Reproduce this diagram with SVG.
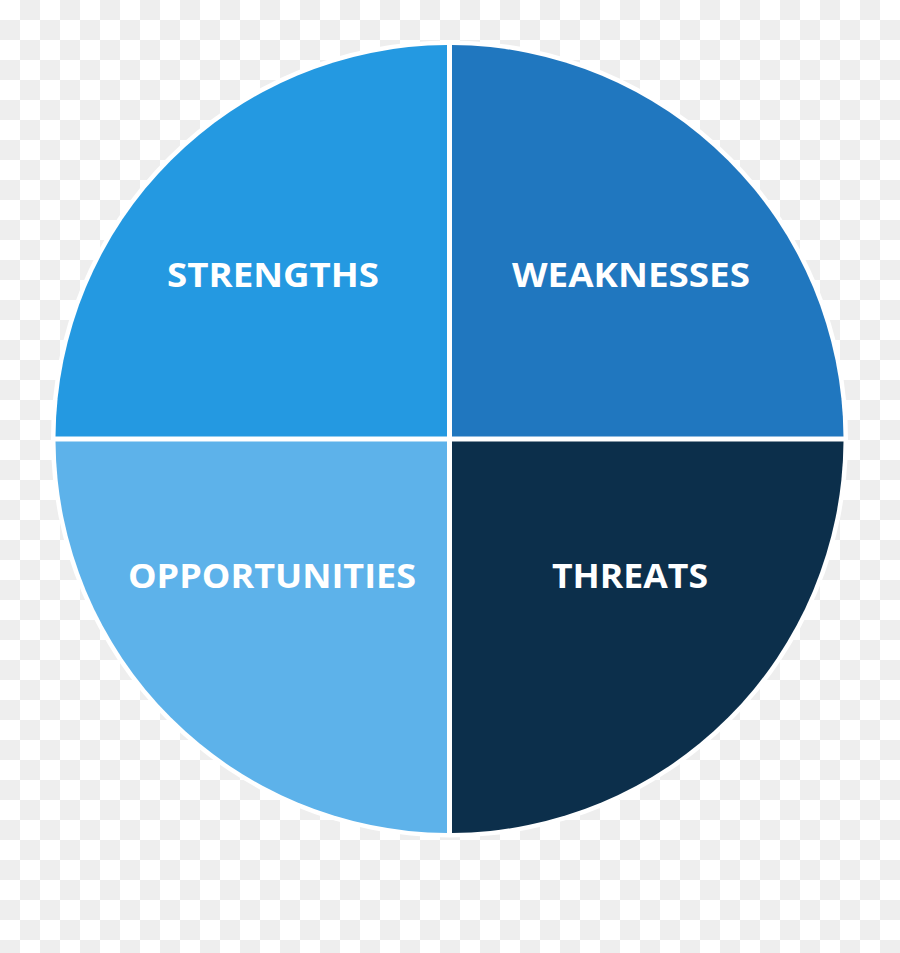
<svg xmlns="http://www.w3.org/2000/svg" width="900" height="953" viewBox="0 0 900 953">
  <style>
    .lbl { font-family: "Open Sans", "Noto Sans", "DejaVu Sans", sans-serif; font-weight: 700; font-size: 34px; fill: #ffffff; text-anchor: middle; }
  </style>
  <defs>
    <pattern id="checker" x="0" y="0" width="40" height="40" patternUnits="userSpaceOnUse">
      <rect x="0" y="0" width="40" height="40" fill="#ffffff"/>
      <rect x="20" y="0" width="20" height="20" fill="#eeeeee"/>
      <rect x="0" y="20" width="20" height="20" fill="#eeeeee"/>
    </pattern>
  </defs>
  <rect x="0" y="0" width="900" height="953" fill="url(#checker)"/>
  <circle cx="449.5" cy="439" r="398.5" fill="#ffffff"/>
  <g id="strengths">
    <path d="M447,436.5 L55.51,436.5 A394,394 0 0 1 447,45.01 Z" fill="#2499e1"/>
    <text class="lbl" x="273" y="287" textLength="212" lengthAdjust="spacingAndGlyphs">STRENGTHS</text>
  </g>
  <g id="weaknesses">
    <path d="M452,436.5 L452,45.01 A394,394 0 0 1 843.49,436.5 Z" fill="#2077bf"/>
    <text class="lbl" x="631" y="287" textLength="238" lengthAdjust="spacingAndGlyphs">WEAKNESSES</text>
  </g>
  <g id="opportunities">
    <path d="M447,441.5 L447,832.99 A394,394 0 0 1 55.51,441.5 Z" fill="#5db2ea"/>
    <text class="lbl" x="272" y="588" textLength="288" lengthAdjust="spacingAndGlyphs">OPPORTUNITIES</text>
  </g>
  <g id="threats">
    <path d="M452,441.5 L843.49,441.5 A394,394 0 0 1 452,832.99 Z" fill="#0c2f4b"/>
    <text class="lbl" x="630" y="588" textLength="156" lengthAdjust="spacingAndGlyphs">THREATS</text>
  </g>
  <g id="connectors"></g>
</svg>
